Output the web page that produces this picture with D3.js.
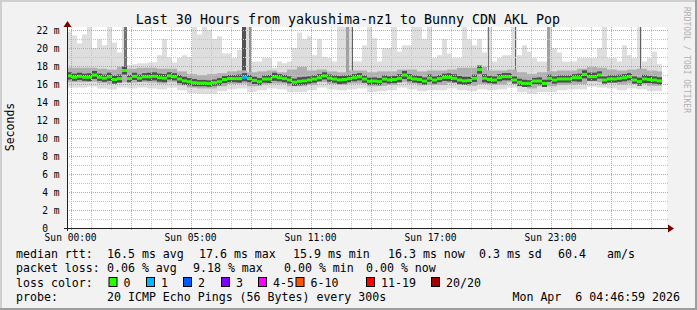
<!DOCTYPE html>
<html>
<head>
<meta charset="utf-8">
<script src="https://cdn.jsdelivr.net/npm/d3@7"></script>
<style>
  body { margin: 0; background: #f2f2f2; }
  text { font-family: "DejaVu Sans Mono", monospace; fill: #000; white-space: pre; }
</style>
</head>
<body>
<svg id="chart"></svg>
<script>
// median rtt per 15 minutes (ms)
var med = [16.9,16.75,16.85,16.75,16.75,17.0,16.75,16.65,16.8,16.5,
  16.6,17.5,16.6,16.85,16.65,16.8,16.8,16.85,16.7,16.65,
  16.9,16.8,16.55,16.35,16.25,16.15,16.1,16.1,16.05,16.15,
  16.25,16.5,16.6,16.6,16.6,16.75,16.6,16.4,16.25,16.55,
  16.55,16.8,16.7,16.6,16.45,16.2,16.3,16.35,16.45,16.55,
  16.7,16.9,16.65,16.55,16.45,16.5,16.6,16.7,16.8,16.55,
  16.3,16.33,16.26,16.55,16.45,16.5,16.63,17.0,16.7,16.56,
  16.5,16.33,16.65,16.44,16.6,16.74,16.74,16.63,16.44,16.35,
  16.4,16.63,17.6,16.63,16.5,16.44,16.7,16.81,16.81,16.44,
  16.19,16.07,16.07,16.33,16.33,16.07,16.63,16.44,16.56,16.56,
  16.56,16.7,16.7,17.07,16.81,16.81,17.0,16.44,16.56,16.56,
  16.63,16.7,16.81,16.44,16.26,16.56,16.5,16.44,16.35];

// slowest ping per 15 minutes (ms)
var hi = [21.8,21.4,20.5,21.5,22.5,20.0,21.0,20.3,22.5,20.6,
  19.5,22.5,18.1,18.2,18.3,18.3,18.4,18.4,19.2,21.0,
  19.0,18.4,18.9,19.2,19.0,22.5,21.5,22.5,22.0,21.0,
  21.3,19.4,19.4,18.9,19.8,22.5,22.5,18.5,18.5,18.9,
  18.9,17.8,18.5,18.3,18.5,20.0,21.7,21.0,21.3,19.2,
  21.0,19.0,18.9,18.5,22.5,22.5,22.5,18.5,18.5,20.3,
  22.5,21.1,18.5,20.0,20.0,22.5,19.6,20.3,20.3,22.5,
  22.5,21.0,22.5,18.9,19.2,21.0,19.4,18.9,18.9,22.5,
  21.0,20.3,21.0,19.5,22.5,18.5,18.9,19.2,19.2,22.5,
  19.2,20.3,19.6,18.9,18.5,18.5,22.5,20.0,19.5,18.5,
  18.5,18.5,18.9,18.9,18.9,18.9,20.0,22.5,18.9,18.9,
  18.5,20.3,19.2,18.9,22.5,18.5,18.9,19.6,18.2];

// per 30 minutes: fastest ping, 10th / 90th percentile, interquartile spread (ms)
var lo = [15.6,15.6,15.7,15.5,15.4,15.6,15.5,15.6,15.5,15.4,
  15.6,15.3,15.0,14.9,14.9,15.2,15.4,15.5,15.1,15.3,
  15.5,15.4,15.1,15.1,15.3,15.6,15.4,15.3,15.4,15.5,
  15.1,15.2,15.3,15.6,15.4,15.2,15.3,15.3,15.5,15.3,
  15.2,15.4,15.3,15.4,15.6,15.1,14.9,15.1,15.1,15.3,
  15.4,15.4,15.7,15.6,15.5,15.3,15.5,15.4,15.2,15.2];
var p10 = [16.2,16.2,16.25,16.1,16.0,16.2,16.15,16.2,16.15,16.05,
  16.2,15.85,15.6,15.5,15.5,15.75,16.0,16.05,15.75,15.95,
  16.05,16.05,15.75,15.75,15.9,16.2,16.0,15.9,16.05,16.05,
  15.75,15.8,15.9,16.2,16.05,15.85,15.9,15.9,16.1,15.95,
  15.8,16.0,15.95,15.95,16.2,15.75,15.5,15.75,15.75,15.9,
  15.95,16.0,16.3,16.2,16.1,15.95,16.05,16.0,15.8,15.8];
var p90 = [17.8,17.8,17.8,17.7,17.6,17.9,17.7,17.8,17.8,17.7,
  17.7,17.4,17.1,17.0,17.1,17.2,17.4,17.5,17.3,17.4,
  17.5,17.3,17.6,17.9,17.5,17.6,17.4,17.3,17.5,17.5,
  17.3,17.4,17.4,17.6,17.6,17.4,17.5,17.5,17.6,17.8,
  17.8,17.9,17.5,17.5,17.6,17.3,17.1,17.3,17.4,17.5,
  17.5,17.7,17.9,17.8,17.6,17.5,17.6,17.7,17.5,17.4];
var iqr = [0.8,0.8,0.9,0.8,0.9,0.9,0.8,0.8,0.9,0.9,
  0.8,0.9,0.8,0.7,0.7,0.8,0.8,0.9,0.8,0.8,
  0.9,0.8,0.8,0.9,0.8,0.8,0.8,0.9,0.8,0.8,
  0.8,0.8,0.8,0.9,0.8,0.8,0.8,0.8,0.9,0.9,
  0.8,0.9,0.8,0.8,0.8,0.8,0.7,0.8,0.8,0.8,
  0.8,0.9,0.9,0.8,0.8,0.8,0.8,0.9,0.8,0.8];

// short bursts where many pings were slow (hours from start)
var spikeFrom  = [2.85, 8.75, 9.1, 13.95, 14.25, 21.05, 22.4, 24.0, 28.65];
var spikeTo    = [3.0, 8.95, 9.2, 14.1, 14.3, 21.1, 22.45, 24.15, 28.7];
var spikeTop   = [22.5, 22.5, 22.5, 22.5, 22.5, 22.5, 22.5, 22.5, 22.5];
var spikePings = [6, 8, 4, 3, 7, 6, 7, 3, 7];

// lost pings (15 minute bin index, count)
var lossBin = [35];
var lossCount = [1];

var yTicks = [0,2,4,6,8,10,12,14,16,18,20,22];
var xTickHours = [0.18, 6.18, 12.18, 18.18, 24.18];
var xTickLabels = ["Sun 00:00","Sun 05:00","Sun 11:00","Sun 17:00","Sun 23:00"];

var lossNames = ["0","1","2","3","4-5","6-10","11-19","20/20"];
var lossColors = ["#26ff00","#00b8ff","#0059ff","#7e00ff","#ff00ff","#ff5500","#ff0000","#a10000"];
var rttStats = ["16.5 ms avg","17.6 ms max","15.9 ms min","16.3 ms now","0.3 ms sd","60.4","am/s"];
var lossStats = ["0.06 % avg","9.18 % max","0.00 % min","0.00 % now"];

var W = 697, H = 310;
var plotL = 67, plotR = 667, plotT = 27, plotB = 228;

var svg = d3.select("#chart").attr("width", W).attr("height", H);

// background + 3d frame
svg.append("rect").attr("width", W).attr("height", H).attr("fill", "#f2f2f2");
svg.append("rect").attr("x", 0).attr("y", 0).attr("width", W).attr("height", 2).attr("fill", "#cfcfcf");
svg.append("rect").attr("x", 0).attr("y", 0).attr("width", 2).attr("height", H).attr("fill", "#cfcfcf");
svg.append("rect").attr("x", W - 2).attr("y", 0).attr("width", 2).attr("height", H).attr("fill", "#9e9e9e");
svg.append("rect").attr("x", 0).attr("y", H - 2).attr("width", W).attr("height", 2).attr("fill", "#9e9e9e");

var x = d3.scaleLinear().domain([0, 30]).range([plotL, plotR]);
var y = d3.scaleLinear().domain([0, 22]).range([plotB, 30]);

svg.append("rect").attr("x", plotL).attr("y", plotT).attr("width", plotR - plotL).attr("height", plotB - plotT).attr("fill", "#fff");

svg.append("clipPath").attr("id", "plotclip").append("rect")
  .attr("x", plotL).attr("y", plotT).attr("width", plotR - plotL).attr("height", plotB - plotT);

var plot = svg.append("g").attr("clip-path", "url(#plotclip)");
var nBins = med.length;

// light smoke: fastest to slowest ping
plot.append("g").selectAll("rect").data(hi).join("rect")
  .attr("x", function(d, i) { return x(i * 0.25); })
  .attr("width", function(d, i) { return x((i + 1) * 0.25) - x(i * 0.25); })
  .attr("y", function(d) { return y(d); })
  .attr("height", function(d, i) { return y(lo[i >> 1]) - y(d); })
  .attr("fill", "#dedede");

// middle smoke
plot.append("g").selectAll("rect").data(p90).join("rect")
  .attr("x", function(d, j) { return x(j * 0.5); })
  .attr("width", function(d, j) { return x(Math.min((j + 1) * 0.5, nBins * 0.25)) - x(j * 0.5); })
  .attr("y", function(d) { return y(d); })
  .attr("height", function(d, j) { return y(p10[j]) - y(d); })
  .attr("fill", "#b0b0b0");

// bursts
var shade = d3.scaleLinear().domain([1, 10]).range(["#c0c0c0", "#333333"]);
plot.append("g").selectAll("rect").data(spikeFrom).join("rect")
  .attr("x", function(d) { return x(d); })
  .attr("width", function(d, k) { return Math.max(1, x(spikeTo[k]) - x(d)); })
  .attr("y", function(d, k) { return y(spikeTop[k]); })
  .attr("height", function(d, k) { return y(p90[Math.floor(d / 0.5)]) - y(spikeTop[k]); })
  .attr("fill", function(d, k) { return shade(spikePings[k]); });

// dark core around the median
plot.append("g").selectAll("rect").data(med).join("rect")
  .attr("x", function(d, i) { return x(i * 0.25); })
  .attr("width", function(d, i) { return x((i + 1) * 0.25) - x(i * 0.25); })
  .attr("y", function(d, i) { return y(d + iqr[i >> 1] / 2); })
  .attr("height", function(d, i) { return y(d - iqr[i >> 1] / 2) - y(d + iqr[i >> 1] / 2); })
  .attr("fill", "#4e4e4e");

// grid
var grid = svg.append("g");
d3.range(1, 23, 2).forEach(function(v) {
  grid.append("line").attr("x1", plotL).attr("x2", plotR + 1).attr("y1", y(v) + 0.5).attr("y2", y(v) + 0.5)
    .attr("stroke", "#c4c4c4").attr("stroke-dasharray", "1,1");
});
d3.range(0.18, 30, 1).forEach(function(h, k) {
  if (k % 3 === 0) return;
  grid.append("line").attr("x1", Math.round(x(h)) + 0.5).attr("x2", Math.round(x(h)) + 0.5).attr("y1", plotT).attr("y2", plotB + 3)
    .attr("stroke", "#c4c4c4").attr("stroke-dasharray", "1,1");
});
yTicks.slice(1).forEach(function(v) {
  grid.append("line").attr("x1", plotL).attr("x2", plotR + 1).attr("y1", y(v) + 0.5).attr("y2", y(v) + 0.5)
    .attr("stroke", "#f09090").attr("stroke-dasharray", "1,1");
});
d3.range(0.18, 30, 3).forEach(function(h) {
  grid.append("line").attr("x1", Math.round(x(h)) + 0.5).attr("x2", Math.round(x(h)) + 0.5).attr("y1", plotT).attr("y2", plotB + 3)
    .attr("stroke", "#f09090").attr("stroke-dasharray", "1,1");
});

// median line, coloured by loss
var lossOf = function(i) {
  var k = lossBin.indexOf(i);
  return k < 0 ? 0 : lossCount[k];
};
plot.append("g").selectAll("rect").data(med).join("rect")
  .attr("x", function(d, i) { return x(i * 0.25); })
  .attr("width", function(d, i) { return x((i + 1) * 0.25) - x(i * 0.25); })
  .attr("y", function(d) { return y(d) - 1.5; })
  .attr("height", 3)
  .attr("fill", function(d, i) { return lossColors[lossOf(i)]; });

// axes
svg.append("line").attr("x1", 64).attr("x2", 670).attr("y1", plotB + 0.5).attr("y2", plotB + 0.5).attr("stroke", "#212121");
svg.append("line").attr("x1", plotL + 0.5).attr("x2", plotL + 0.5).attr("y1", 24).attr("y2", plotB + 3).attr("stroke", "#212121");
svg.append("path").attr("d", "M668,224.5L674,228.5L668,232.5Z").attr("fill", "#800000");
svg.append("path").attr("d", "M63.5,27L67.5,21L71.5,27Z").attr("fill", "#800000");

var axisFont = "9.6px";
svg.append("g").selectAll("text").data(yTicks).join("text")
  .attr("x", 59.5).attr("y", function(d) { return y(d) + 3.5; })
  .attr("text-anchor", "end").style("font-size", axisFont)
  .text(function(d) { return d === 0 ? "0  " : d + " m"; });

svg.append("g").selectAll("text").data(xTickLabels).join("text")
  .attr("x", function(d, i) { return x(xTickHours[i]); }).attr("y", 241)
  .attr("text-anchor", "middle").style("font-size", axisFont)
  .text(function(d) { return d; });

// titles
svg.append("text").attr("x", 348).attr("y", 23.5).attr("text-anchor", "middle")
  .style("font-size", "13.3px").text("Last 30 Hours from yakushima-nz1 to Bunny CDN AKL Pop");
svg.append("text").attr("transform", "translate(14,127) rotate(-90)").attr("text-anchor", "middle")
  .style("font-size", "11.5px").text("Seconds");
svg.append("text").attr("transform", "translate(684,60) rotate(90)").attr("text-anchor", "middle")
  .style("font-size", "8px").style("fill", "#b0b0b0").text("RRDTOOL / TOBI OETIKER");

// legend
var lg = svg.append("g").style("font-size", "11.6px");
var rows = [258.4, 272.4, 286.5, 300.7];
lg.append("text").attr("x", 16).attr("y", rows[0]).text("median rtt:");
[107, 199, 293, 388, 479, 558, 607].forEach(function(px, i) {
  lg.append("text").attr("x", px).attr("y", rows[0]).text(rttStats[i]);
});
lg.append("text").attr("x", 16).attr("y", rows[1]).text("packet loss:");
[107, 193, 284, 366].forEach(function(px, i) {
  lg.append("text").attr("x", px).attr("y", rows[1]).text(lossStats[i]);
});
lg.append("text").attr("x", 16).attr("y", rows[2]).text("loss color:");
[108.5, 146, 183, 221, 258, 295.5, 366, 431].forEach(function(px, i) {
  lg.append("rect").attr("x", px + 0.5).attr("y", 277.5).attr("width", 8).attr("height", 9)
    .attr("fill", lossColors[i]).attr("stroke", "#000");
  lg.append("text").attr("x", px + 15).attr("y", rows[2]).text(lossNames[i]);
});
lg.append("text").attr("x", 16).attr("y", rows[3]).text("probe:");
lg.append("text").attr("x", 107).attr("y", rows[3]).text("20 ICMP Echo Pings (56 Bytes) every 300s");
lg.append("text").attr("x", 680).attr("y", rows[3]).attr("text-anchor", "end").text("Mon Apr  6 04:46:59 2026");
</script>
</body>
</html>
